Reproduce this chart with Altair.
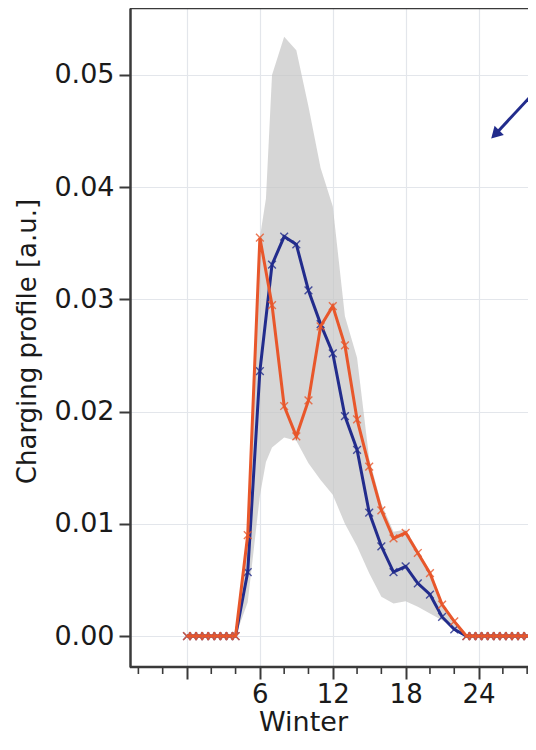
import altair as alt
import pandas as pd

# ---------------- data ----------------
zero_early = [0, 0.5, 1, 1.5, 2, 2.5, 3, 3.5, 4]
hours_mid = list(range(5, 23))
zero_late = [23, 23.5, 24, 24.5, 25, 25.5, 26, 26.5, 27, 27.5, 28, 28.5]

orange_mid = [0.0090, 0.0355, 0.0295, 0.0205, 0.0178, 0.0210, 0.0276, 0.0294, 0.0259,
              0.0193, 0.0151, 0.0112, 0.0087, 0.0092, 0.0074, 0.0056, 0.0028, 0.0013]
navy_mid = [0.0057, 0.0236, 0.0331, 0.0356, 0.0349, 0.0308, 0.0278, 0.0252, 0.0196,
            0.0166, 0.0110, 0.0080, 0.0057, 0.0062, 0.0047, 0.0037, 0.0017, 0.0006]
navy_next_x = [29]
navy_next = [0.0065]

band_x = [4, 5, 6, 6.5, 7, 8, 9, 10, 11, 12, 13, 14, 15, 16, 17, 18, 19, 20, 21, 22, 23]
band_hi = [0, 0.0090, 0.0355, 0.0390, 0.0500, 0.0534, 0.0522, 0.0472, 0.0417, 0.0383, 0.0285,
           0.0248, 0.0158, 0.0118, 0.0093, 0.0095, 0.0077, 0.0058, 0.0030, 0.0014, 0]
band_lo = [0, 0.0030, 0.0125, 0.0155, 0.0168, 0.0177, 0.0174, 0.0154, 0.0139, 0.0126, 0.0100,
           0.0080, 0.0056, 0.0035, 0.0029, 0.0031, 0.0026, 0.0020, 0.0014, 0.0007, 0]

x_major = [0, 6, 12, 18, 24]
x_minor = [-4, -2, 2, 4, 8, 10, 14, 16, 20, 22, 26, 28]
y_ticks = [0.0, 0.01, 0.02, 0.03, 0.04, 0.05]

arrow_x = [28.8, 25.37]
arrow_y = [0.0487, 0.0447]

x_domain = [-4.69, 28.07]
y_domain = [-0.00276, 0.05597]

# ---------------- styling ----------------
W, H = 398, 659
ORANGE = "#E8572B"
NAVY = "#222C8C"
FRAME = "#3a3a3a"
GRID = "#e3e6eb"
FONT = "DejaVu Sans"
CROSS = "M-1,-1L1,1M-1,1L1,-1"

xs = alt.Scale(domain=x_domain, nice=False, zero=False)
ys = alt.Scale(domain=y_domain, nice=False, zero=False)

orange_x = zero_early + hours_mid + zero_late
orange_y = [0] * len(zero_early) + orange_mid + [0] * len(zero_late)
navy_x = zero_early + hours_mid + zero_late + navy_next_x
navy_y = [0] * len(zero_early) + navy_mid + [0] * len(zero_late) + navy_next

df_orange = pd.DataFrame({"x": orange_x, "y": orange_y})
df_navy = pd.DataFrame({"x": navy_x, "y": navy_y})
df_band = pd.DataFrame({"x": band_x, "y": band_hi, "lo": band_lo})
df_minor = pd.DataFrame({"x": x_minor})
df_arrow = pd.DataFrame({"x": [arrow_x[0]], "y": [arrow_y[0]],
                         "x2": [arrow_x[1]], "y2": [arrow_y[1]]})
df_head = pd.DataFrame({"x": [arrow_x[1]], "y": [arrow_y[1]]})
df_one = pd.DataFrame({"a": [0]})

x_axis = alt.Axis(values=x_major, labelExpr="datum.value === 0 ? '' : datum.label",
                  grid=True, gridColor=GRID, gridWidth=1.2, domain=False,
                  tickSize=12, tickWidth=2, tickColor=FRAME, labelPadding=2,
                  labelFontSize=26, labelFont=FONT, labelColor="#1a1a1a",
                  title="Winter", titleFontSize=27, titleFont=FONT, titleFontWeight="normal",
                  titleColor="#1a1a1a", titleX=173, titleY=63, titleBaseline="alphabetic",
                  titleAlign="center")
y_axis = alt.Axis(values=y_ticks, format=".2f", grid=True, gridColor=GRID, gridWidth=1.2,
                  domain=True, domainColor=FRAME, domainWidth=2.5,
                  tickSize=11, tickWidth=2, tickColor=FRAME, labelPadding=5,
                  labelFontSize=27, labelFont=FONT, labelColor="#1a1a1a",
                  title="Charging profile [a.u.]", titleFontSize=26, titleFont=FONT,
                  titleFontWeight="normal", titleColor="#1a1a1a",
                  titleX=-103, titleY=333, titleAngle=-90, titleAlign="center",
                  titleBaseline="middle")

X = alt.X("x:Q", scale=xs, axis=x_axis)
Y = alt.Y("y:Q", scale=ys, axis=y_axis)

band = alt.Chart(df_band).mark_area(color="#c4c4c4", opacity=0.7).encode(
    x=X, y=Y, y2="lo:Q")

def series(df, color):
    line = alt.Chart(df).mark_line(color=color, strokeWidth=3).encode(x=X, y=Y)
    pts = alt.Chart(df).mark_point(shape=CROSS, filled=False, color=color, size=60,
                                   strokeWidth=1.4, opacity=0.8).encode(x=X, y=Y)
    return line + pts

navy_layer = series(df_navy, NAVY)
orange_layer = series(df_orange, ORANGE)

minor = alt.Chart(df_minor).mark_rule(color=FRAME, strokeWidth=1.6).encode(
    x=X, y=alt.value(H), y2=alt.value(H + 7))

top_frame = alt.Chart(df_one).mark_rule(color=FRAME, strokeWidth=2.5).encode(
    x=alt.value(0), x2=alt.value(W), y=alt.value(0))
bottom_frame = alt.Chart(df_one).mark_rule(color=FRAME, strokeWidth=2.5).encode(
    x=alt.value(0), x2=alt.value(W), y=alt.value(H))

arrow_line = alt.Chart(df_arrow).mark_rule(color=NAVY, strokeWidth=3).encode(
    x=X, y=Y, x2="x2:Q", y2="y2:Q")
arrow_head = alt.Chart(df_head).mark_point(shape="triangle-up", filled=True, color=NAVY,
                                           size=170, angle=225, opacity=1).encode(x=X, y=Y)

chart = alt.layer(
    band, navy_layer, orange_layer, minor, top_frame, bottom_frame, arrow_line, arrow_head
).properties(
    width=W, height=H,
    padding={"left": 122, "top": 0, "right": 0, "bottom": 70},
    autosize=alt.AutoSizeParams(type="none"),
).configure_view(stroke=None)

chart.save("out.html", embed_options={"renderer": "svg", "actions": False})
